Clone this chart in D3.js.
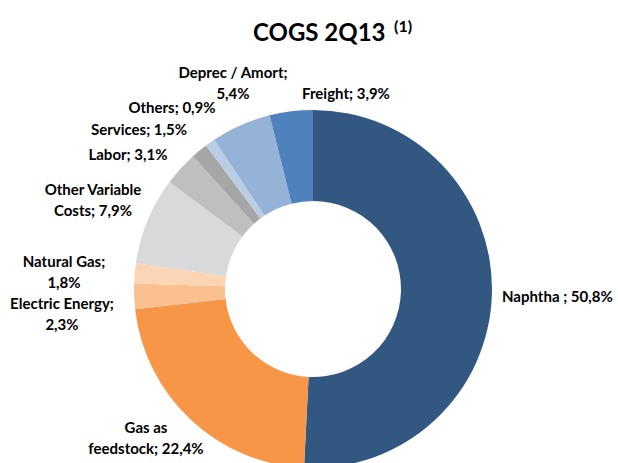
<!DOCTYPE html>
<html><head><meta charset="utf-8">
<script src="https://cdn.jsdelivr.net/npm/d3@7"></script>
<style>body{margin:0;background:#fff}svg{display:block}text{font-family:Lato,"Open Sans",sans-serif;font-weight:bold;fill:#000}</style>
</head><body><svg id="c" width="618" height="463"></svg>
<script>
const categories = ["Naphtha","Gas as feedstock","Electric Energy","Natural Gas","Other Variable Costs","Labor","Services","Others","Deprec / Amort","Freight"];
const values = [50.8,22.4,2.3,1.8,7.9,3.1,1.5,0.9,5.4,3.9];
const labelLines = [["Naphtha ; 50,8%"],["Gas as","feedstock; 22,4%"],["Electric Energy;","2,3%"],["Natural Gas;","1,8%"],["Other Variable","Costs; 7,9%"],["Labor; 3,1%"],["Services; 1,5%"],["Others; 0,9%"],["Deprec / Amort;","5,4%"],["Freight; 3,9%"]];
const colors = ["#325780","#F79646","#FAC090","#FCD5B5","#D9D9D9","#BFBFBF","#A6A6A6","#B9CDE5","#95B3D7","#4F81BD"];
// label layout (x, first baseline y, anchor)
const labelLayout = [[502,302,"start"],[146,433,"middle"],[62,309,"middle"],[64,267,"middle"],[93,195,"middle"],[128,160,"middle"],[139,135,"middle"],[172,113,"middle"],[233,78,"middle"],[346,99,"middle"]];

const svg = d3.select("#c");
const cx=313, cy=289, rO=179, rI=88;
const pie = d3.pie().sort(null).value(d=>d)(values);
const arc = d3.arc().innerRadius(rI).outerRadius(rO);
const g = svg.append("g").attr("transform",`translate(${cx},${cy})`);
g.selectAll("path").data(pie).join("path").attr("d",arc).attr("fill",(d,i)=>colors[i]);

const t = svg.append("text").attr("x",253).attr("y",41).attr("text-anchor","start").style("font-size","24px");
t.append("tspan").text("COGS 2Q13");
t.append("tspan").text("(1)").style("font-size","16px").attr("x",394).attr("y",32);

labelLines.forEach((lines,i)=>{
  const [x,y,a]=labelLayout[i];
  const tx = svg.append("text").attr("text-anchor",a).style("font-size","15px");
  lines.forEach((l,j)=>tx.append("tspan").attr("x",x).attr("y",y+j*21).text(l));
});
</script></body></html>
